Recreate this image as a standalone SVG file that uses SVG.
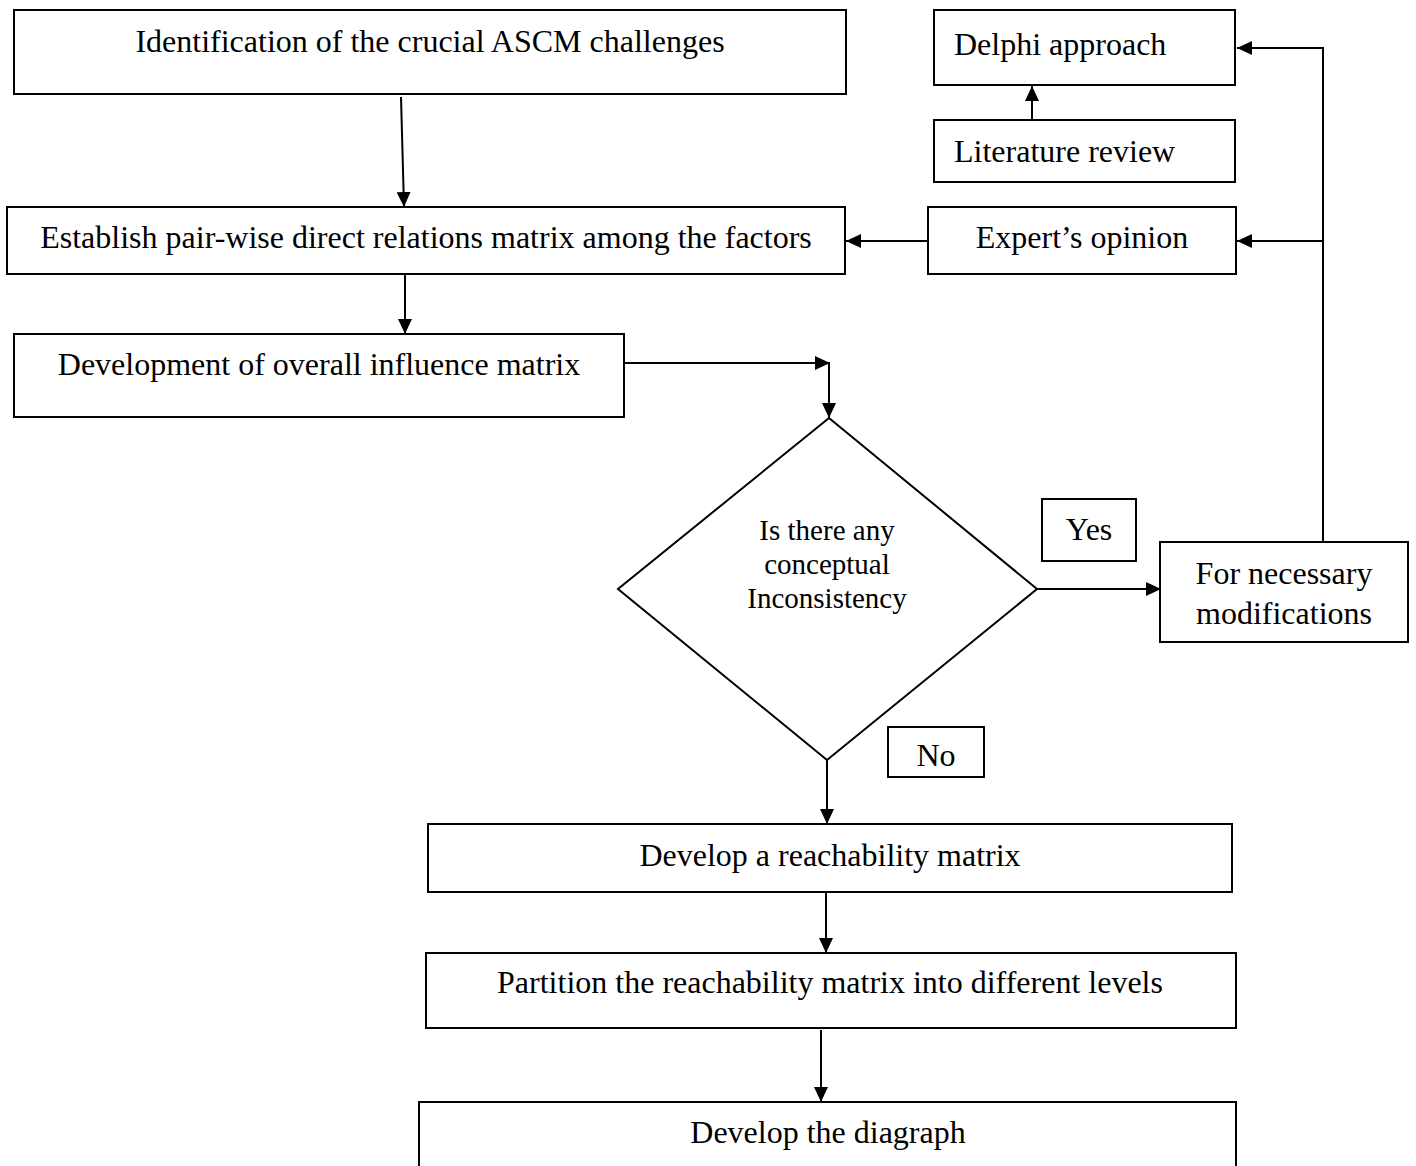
<svg xmlns="http://www.w3.org/2000/svg" width="1416" height="1166" viewBox="0 0 1416 1166">
<style>
.box{fill:#fff;stroke:#000;stroke-width:2}
.t{font-family:"Liberation Serif","Times New Roman",serif;font-size:32px;fill:#000}
.c{text-anchor:middle}
.d{font-size:29px}
.ln{fill:none;stroke:#000;stroke-width:2}
</style>
<defs>
<marker id="ah" markerUnits="userSpaceOnUse" markerWidth="16" markerHeight="14" refX="15" refY="7" orient="auto">
<path d="M0,0 L15,7 L0,14 z" fill="#000"/>
</marker>
</defs>
<rect width="1416" height="1166" fill="#fff"/>
<g id="n-identification"><rect class="box" x="14" y="10" width="832" height="84"/><text class="t c" x="430" y="52">Identification of the crucial ASCM challenges</text></g>
<g id="n-establish"><rect class="box" x="7" y="207" width="838" height="67"/><text class="t c" x="426" y="248">Establish pair-wise direct relations matrix among the factors</text></g>
<g id="n-development"><rect class="box" x="14" y="334" width="610" height="83"/><text class="t c" x="319" y="375">Development of overall influence matrix</text></g>
<g id="n-delphi"><rect class="box" x="934" y="10" width="301" height="75"/><text class="t" x="954" y="55">Delphi approach</text></g>
<g id="n-literature"><rect class="box" x="934" y="120" width="301" height="62"/><text class="t" x="954" y="162">Literature review</text></g>
<g id="n-expert"><rect class="box" x="928" y="207" width="308" height="67"/><text class="t c" x="1082" y="248">Expert’s opinion</text></g>
<g id="n-decision"><polygon class="box" points="829,418 1037,589 827,760 618,589"/><text class="t d c" x="827" y="540">Is there any</text><text class="t d c" x="827" y="574">conceptual</text><text class="t d c" x="827" y="608">Inconsistency</text></g>
<g id="n-yes"><rect class="box" x="1042" y="499" width="94" height="62"/><text class="t c" x="1089" y="540">Yes</text></g>
<g id="n-modifications"><rect class="box" x="1160" y="542" width="248" height="100"/><text class="t c" x="1284" y="584">For necessary</text><text class="t c" x="1284" y="624">modifications</text></g>
<g id="n-no"><rect class="box" x="888" y="727" width="96" height="50"/><text class="t c" x="936" y="766">No</text></g>
<g id="n-reachability"><rect class="box" x="428" y="824" width="804" height="68"/><text class="t c" x="830" y="866">Develop a reachability matrix</text></g>
<g id="n-partition"><rect class="box" x="426" y="953" width="810" height="75"/><text class="t c" x="830" y="993">Partition the reachability matrix into different levels</text></g>
<g id="n-diagraph"><path class="box" d="M419,1167 V1102 H1236 V1167"/><text class="t c" x="828" y="1143">Develop the diagraph</text></g>
<g id="connectors">
<path class="ln" d="M401,97 L404,207" marker-end="url(#ah)"/>
<path class="ln" d="M405,275 L405,334" marker-end="url(#ah)"/>
<path class="ln" d="M624,363 L830,363" marker-end="url(#ah)"/>
<path class="ln" d="M829,363 L829,418" marker-end="url(#ah)"/>
<path class="ln" d="M1037,589 L1161,589" marker-end="url(#ah)"/>
<path class="ln" d="M1323,542 L1323,48 L1237,48" marker-end="url(#ah)"/>
<path class="ln" d="M1323,241 L1237,241" marker-end="url(#ah)"/>
<path class="ln" d="M1032,120 L1032,86" marker-end="url(#ah)"/>
<path class="ln" d="M928,241 L846,241" marker-end="url(#ah)"/>
<path class="ln" d="M827,760 L827,824" marker-end="url(#ah)"/>
<path class="ln" d="M826,893 L826,953" marker-end="url(#ah)"/>
<path class="ln" d="M821,1030 L821,1102" marker-end="url(#ah)"/>
</g>
</svg>
